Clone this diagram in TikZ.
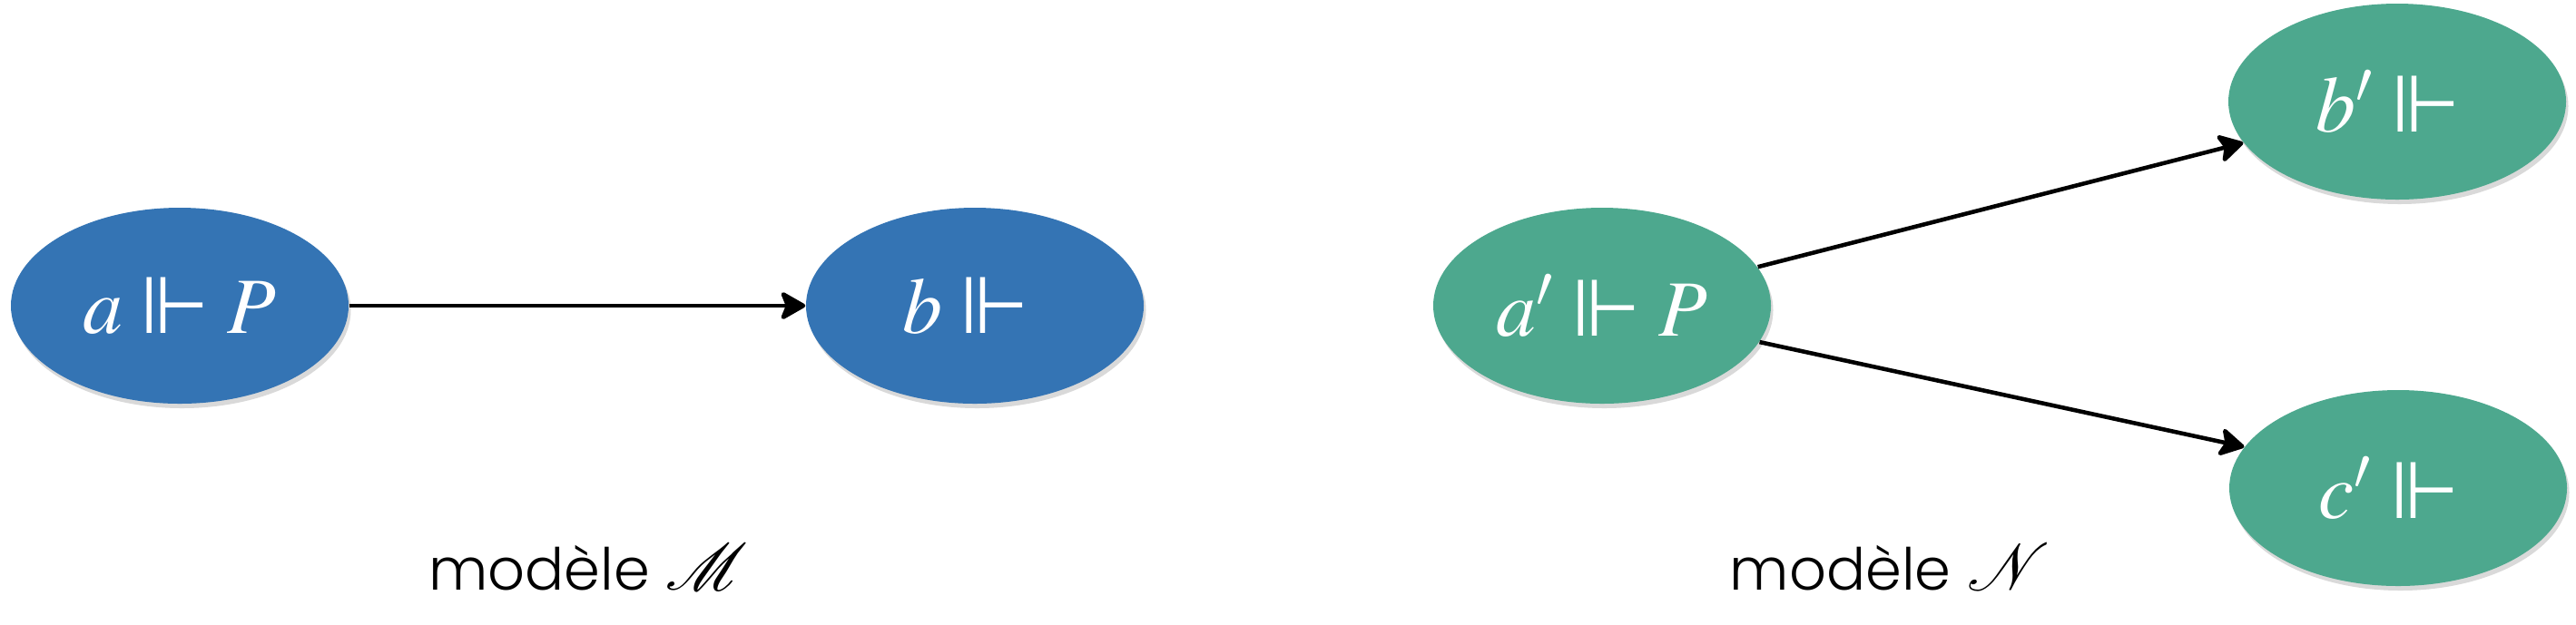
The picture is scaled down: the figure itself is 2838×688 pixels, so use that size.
\documentclass[tikz,border=0pt]{standalone}
\usepackage[no-math]{fontspec}
\usepackage{mathptmx}
\usepackage{amssymb}
\usepackage{mathrsfs}
\newfontfamily\labelfont{Poppins Light}
\newfontfamily\symfont{DejaVu Sans}
\newcommand\forc{\mathrel{\hbox{\symfont ⊩}}}
\usetikzlibrary{shapes.geometric,arrows.meta,shadows}
\definecolor{nodeblue}{RGB}{52,116,180}
\definecolor{nodegreen}{RGB}{77,168,142}
\begin{document}
\begin{tikzpicture}[x=0.1mm,y=-0.1mm,
  state/.style={ellipse, minimum width=37.2mm, minimum height=21.6mm, inner sep=0pt,
    text=white, font=\fontsize{25}{28}\selectfont,
    drop shadow={shadow xshift=0.25mm, shadow yshift=-0.5mm, opacity=0.25, fill=black!60}},
  arr/.style={line width=1.3pt, -{Stealth[length=3.1mm,width=3.5mm,inset=0.7mm,round]}},
  lbl/.style={anchor=base, font=\labelfont\fontsize{18.2}{22}\selectfont}]
\useasboundingbox (0,0) rectangle (2838,688);
\node[state, fill=nodeblue] (a) at (198,337) {$a \forc P$};
\node[state, fill=nodeblue] (b) at (1074,337) {$b \forc{}$};
\node[state, fill=nodegreen] (ap) at (1765,337) {$a' \forc P$};
\node[state, fill=nodegreen] (bp) at (2641,112) {$b' \forc{}$};
\node[state, fill=nodegreen] (cp) at (2642,538) {$c' \forc{}$};
\draw[arr] (a.east) -- (b.west);
\draw[arr] (ap.14) -- (bp.195);
\draw[arr] (ap.-13) -- (cp.165);
\node[lbl] (lm) at (648,650) {modèle {\fontsize{22.5}{26}\selectfont$\mathscr{M}$}};
\node[lbl] (ln) at (2082,650) {modèle {\fontsize{22.5}{26}\selectfont$\mathscr{N}$}};
\end{tikzpicture}
\end{document}
